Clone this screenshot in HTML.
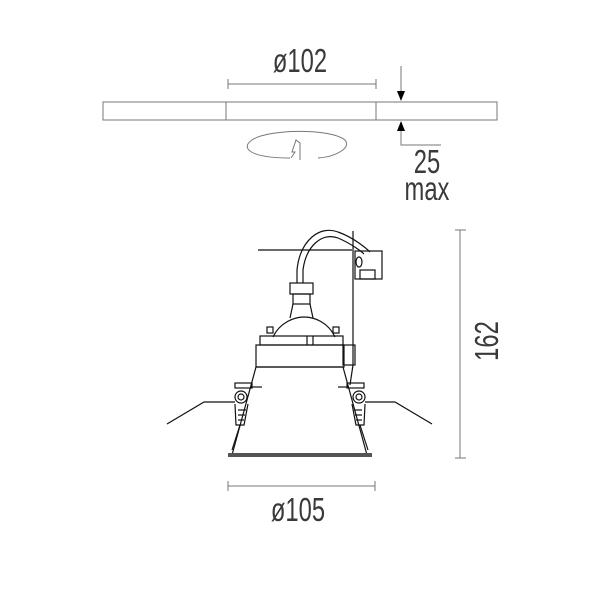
<!DOCTYPE html>
<html><head><meta charset="utf-8"><style>
html,body{margin:0;padding:0;background:#fff;}
svg{display:block;}
text{font-family:"Liberation Sans",sans-serif;fill:#3a3a3a;}
</style></head><body>
<svg width="600" height="600" viewBox="0 0 600 600" xmlns="http://www.w3.org/2000/svg">
<g stroke="#777" stroke-width="1" fill="none">
<line x1="228" y1="84" x2="376" y2="84"/>
<line x1="228" y1="79" x2="228" y2="89"/>
<line x1="376" y1="79" x2="376" y2="89"/>
<rect x="103" y="102" width="394" height="18"/>
<line x1="226" y1="102" x2="226" y2="120"/>
<line x1="376" y1="102" x2="376" y2="120"/>
<line x1="401" y1="66" x2="401" y2="95"/>
<polyline points="401,128 401,145 441,145"/>
<path d="M290,158 C250,158 240,148 252,140 C268,129 330,128 345,140 C352,148 335,157 318,158"/>
<path d="M300,160 L300,143 L296,140 L292,152 L295,152 L291,158"/>
<line x1="460" y1="230" x2="460" y2="458"/>
<line x1="455" y1="230" x2="466" y2="230"/>
<line x1="455" y1="458" x2="466" y2="458"/>
<line x1="228" y1="486" x2="375" y2="486"/>
<line x1="228" y1="481" x2="228" y2="491"/>
<line x1="375" y1="481" x2="375" y2="491"/>
</g>
<polygon points="397,91 405,91 401,101" fill="#000"/>
<polygon points="397,131 405,131 401,121" fill="#000"/>
<g transform="translate(300,72) scale(0.72,1)"><text x="0" y="0" font-size="33" text-anchor="middle">ø102</text></g>
<g transform="translate(427,173) scale(0.72,1)"><text x="0" y="0" font-size="33" text-anchor="middle">25</text></g>
<g transform="translate(427,200) scale(0.72,1)"><text x="0" y="0" font-size="33" text-anchor="middle">max</text></g>
<g transform="translate(298,521) scale(0.72,1)"><text x="0" y="0" font-size="33" text-anchor="middle">ø105</text></g>
<g transform="translate(498,341) rotate(-90) scale(0.72,1)"><text x="0" y="0" font-size="33" text-anchor="middle">162</text></g>
<g stroke="#111" stroke-width="1.2" fill="none">
<line x1="258" y1="250" x2="352" y2="250"/>
<line x1="353" y1="231" x2="353" y2="365"/>
<path d="M297,270 C300,240 320,225 338,232 C355,238 368,250 370,252"/>
<path d="M303,270 C306,246 322,232 338,238 C352,244 362,252 364,254"/>
<rect x="355" y="251" width="27" height="28"/>
<ellipse cx="359" cy="262" rx="3" ry="5"/>
<rect x="360" y="270" width="15" height="9"/>
<line x1="297" y1="270" x2="297" y2="283"/><line x1="303" y1="270" x2="303" y2="283"/>
<rect x="290" y="283" width="23" height="11"/>
<rect x="293" y="294" width="17" height="10"/>
<path d="M293,304 L290,318 M310,304 L313,318"/>
<path d="M273,337 C280,322 295,317 304,317 C314,317 328,322 335,337"/>
<rect x="267" y="327" width="6" height="6"/><rect x="333" y="327" width="6" height="6"/>
<rect x="260" y="336" width="83" height="9"/>
<line x1="307" y1="336" x2="307" y2="345"/><line x1="313" y1="336" x2="313" y2="345"/>
<rect x="256" y="345" width="88" height="22"/>
<rect x="343" y="345" width="12" height="20"/>
<line x1="256" y1="367" x2="344" y2="367"/>
<line x1="256" y1="367" x2="232" y2="455"/>
<line x1="343" y1="367" x2="367" y2="455"/>
<line x1="353" y1="365" x2="350" y2="385"/>
<polyline points="167,424 204,402 235,402"/>
<polyline points="365,402 395,402 432,424"/>
<rect x="235" y="383" width="17" height="5"/>
<circle cx="241" cy="397" r="6"/><circle cx="241" cy="397" r="3"/>
<path d="M235,404 L236,425 L244,425 L248,404"/>
<line x1="238" y1="410" x2="246" y2="410"/><line x1="238" y1="415" x2="245" y2="415"/><line x1="238" y1="420" x2="244" y2="420"/>
<line x1="232" y1="450" x2="240" y2="425"/>
<line x1="251" y1="387" x2="262" y2="387"/>
<rect x="347" y="383" width="17" height="5"/>
<circle cx="359" cy="397" r="6"/><circle cx="359" cy="397" r="3"/>
<path d="M365,404 L364,425 L356,425 L352,404"/>
<line x1="354" y1="410" x2="362" y2="410"/><line x1="355" y1="415" x2="362" y2="415"/><line x1="356" y1="420" x2="362" y2="420"/>
<line x1="368" y1="450" x2="360" y2="425"/>
<line x1="338" y1="387" x2="349" y2="387"/>
</g>
<rect x="228" y="453" width="144" height="4" fill="#555"/>
</svg>
</body></html>
